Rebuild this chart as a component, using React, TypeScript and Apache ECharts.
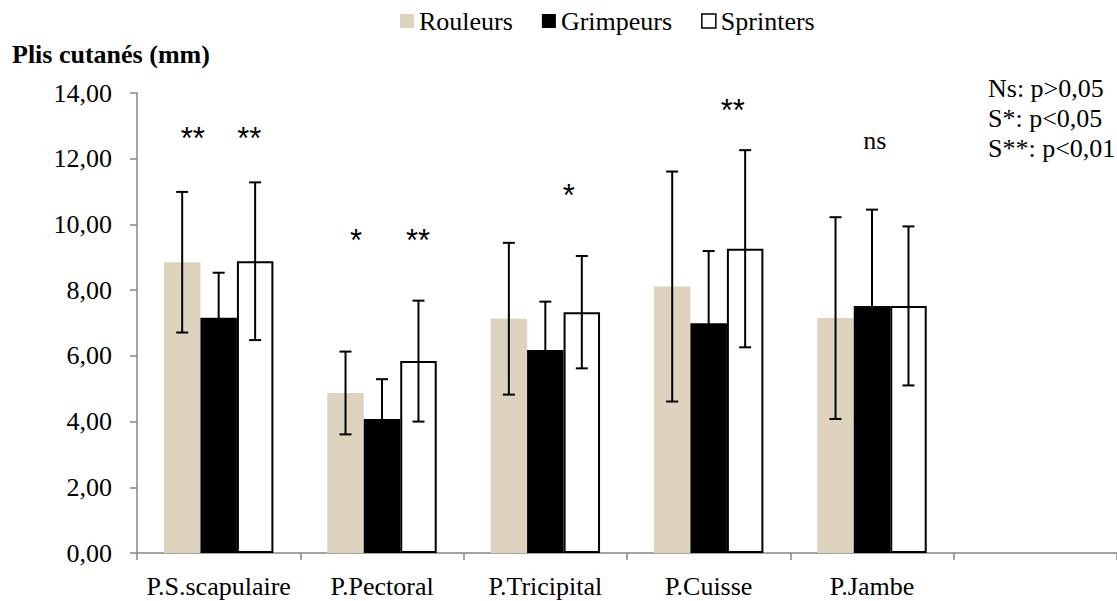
import React, { useEffect, useRef } from "react";
import * as echarts from "echarts";

const categories = ["P.S.scapulaire", "P.Pectoral", "P.Tricipital", "P.Cuisse", "P.Jambe", ""];
const seriesNames = ["Rouleurs", "Grimpeurs", "Sprinters"];
const rouleursMean = [8.85, 4.87, 7.13, 8.11, 7.15];
const rouleursSd = [2.14, 1.26, 2.31, 3.5, 3.07];
const grimpeursMean = [7.16, 4.08, 6.18, 6.99, 7.52];
const grimpeursSd = [1.37, 1.21, 1.47, 2.2, 2.93];
const sprintersMean = [8.88, 5.84, 7.33, 9.26, 7.52];
const sprintersSd = [2.4, 1.84, 1.71, 3.0, 2.42];
const yTicks = [0, 2, 4, 6, 8, 10, 12, 14];
const significanceNotes = ["Ns: p>0,05", "S*: p<0,05", "S**: p<0,01"];
// cat: category index, pos: position across the bar group (in bar widths), level: y value, text
const annotations = [
  { cat: 0, pos: 0.79, level: 12.62, text: "**", serif: false },
  { cat: 0, pos: 2.34, level: 12.62, text: "**", serif: false },
  { cat: 1, pos: 0.79, level: 9.52, text: "*", serif: false },
  { cat: 1, pos: 2.49, level: 9.52, text: "**", serif: false },
  { cat: 2, pos: 2.14, level: 10.89, text: "*", serif: false },
  { cat: 3, pos: 2.16, level: 13.47, text: "**", serif: false },
  { cat: 4, pos: 1.58, level: 12.55, text: "ns", serif: true },
];

const SERIF = "'Liberation Serif', 'Times New Roman', serif";
const SANS = "'Liberation Sans', Arial, sans-serif";
const CAT_GAP = 0.33;
const ROULEURS_COLOR = "#ddd3bf";

const means = [rouleursMean, grimpeursMean, sprintersMean];
const sds = [rouleursSd, grimpeursSd, sprintersSd];

export default function App() {
  const ref = useRef<HTMLDivElement>(null);
  useEffect(() => {
    if (!ref.current) return;
    const chart = echarts.init(ref.current, null, { renderer: "svg" });

    const errData: number[][] = [];
    for (let s = 0; s < 3; s++) {
      for (let i = 0; i < means[s].length; i++) {
        errData.push([i, means[s][i] - sds[s][i], means[s][i] + sds[s][i], s]);
      }
    }

    const barStyles = [
      { color: ROULEURS_COLOR },
      { color: "#000000" },
      { color: "#ffffff", borderColor: "#000000", borderWidth: 2 },
    ];

    chart.setOption({
      animation: false,
      title: {
        text: "Plis cutanés (mm)",
        left: 12,
        top: 41,
        padding: 0,
        textStyle: { fontFamily: SERIF, fontSize: 26, fontWeight: "bold", color: "#000" },
      },
      legend: {
        left: 400,
        top: 8,
        padding: 0,
        itemGap: 29,
        itemWidth: 14,
        itemHeight: 14,
        icon: "rect",
        textStyle: { fontFamily: SERIF, fontSize: 26, color: "#000" },
        data: [
          { name: "Rouleurs", itemStyle: { color: ROULEURS_COLOR } },
          { name: "Grimpeurs", itemStyle: { color: "#000" } },
          { name: "Sprinters", itemStyle: { color: "#fff", borderColor: "#000", borderWidth: 1.5 } },
        ],
      },
      graphic: [
        {
          type: "text",
          left: 988,
          top: 73,
          style: {
            text: significanceNotes.join("\n"),
            fontFamily: SERIF,
            fontSize: 26,
            lineHeight: 30,
            fill: "#000",
          },
        },
      ],
      grid: { left: 137, right: -4, top: 93, bottom: 48, containLabel: false },
      xAxis: {
        type: "category",
        data: categories,
        axisLine: { lineStyle: { color: "#868686", width: 1.5 } },
        axisTick: { show: true, length: 7, lineStyle: { color: "#868686", width: 1.5 } },
        axisLabel: { fontFamily: SERIF, fontSize: 26, color: "#000", margin: 20, interval: 0 },
        splitLine: { show: false },
      },
      yAxis: {
        type: "value",
        min: 0,
        max: 14,
        interval: 2,
        axisLine: { show: true, lineStyle: { color: "#868686", width: 1.5 } },
        axisTick: { show: true, length: 7, lineStyle: { color: "#868686", width: 1.5 } },
        axisLabel: {
          fontFamily: SERIF,
          fontSize: 26,
          color: "#000",
          margin: 25,
          formatter: (v: number) => (yTicks.includes(v) ? v.toFixed(2).replace(".", ",") : ""),
        },
        splitLine: { show: false },
      },
      series: [
        ...seriesNames.map((name, s) => ({
          name,
          type: "bar",
          data: means[s],
          barGap: "0%",
          barCategoryGap: CAT_GAP * 100 + "%",
          itemStyle: barStyles[s],
          z: 2,
        })),
        {
          type: "custom",
          name: "err",
          z: 5,
          data: errData,
          encode: { x: 0, y: [1, 2] },
          renderItem: (params: any, api: any) => {
            const cat = api.value(0);
            const lo = api.value(1);
            const hi = api.value(2);
            const s = api.value(3);
            const catW = api.size([1, 0])[0];
            const bw = (catW * (1 - CAT_GAP)) / 3;
            const c = api.coord([cat, 0])[0];
            const x = c - 1.5 * bw + bw * (s + 0.5);
            const yl = api.coord([cat, lo])[1];
            const yh = api.coord([cat, hi])[1];
            const cap = 6;
            const st = { stroke: "#000", lineWidth: 2 };
            return {
              type: "group",
              children: [
                { type: "line", shape: { x1: x, y1: yl, x2: x, y2: yh }, style: st },
                { type: "line", shape: { x1: x - cap, y1: yh, x2: x + cap, y2: yh }, style: st },
                { type: "line", shape: { x1: x - cap, y1: yl, x2: x + cap, y2: yl }, style: st },
              ],
            };
          },
        },
        {
          type: "custom",
          name: "annot",
          z: 6,
          data: annotations.map((a) => [a.cat, a.level]),
          renderItem: (params: any, api: any) => {
            const a = annotations[params.dataIndex];
            const catW = api.size([1, 0])[0];
            const bw = (catW * (1 - CAT_GAP)) / 3;
            const p = api.coord([a.cat, a.level]);
            const x = p[0] - 1.5 * bw + bw * a.pos;
            return {
              type: "text",
              x,
              y: p[1],
              style: {
                text: a.text,
                fontFamily: a.serif ? SERIF : SANS,
                fontSize: a.serif ? 26 : 31,
                fill: "#000",
                align: "center",
                verticalAlign: "middle",
              },
            };
          },
        },
      ],
    });
    return () => chart.dispose();
  }, []);
  return (
    <div
      ref={ref}
      style={{ position: "absolute", left: 0, top: 0, width: 1117, height: 601, background: "#fff" }}
    />
  );
}
